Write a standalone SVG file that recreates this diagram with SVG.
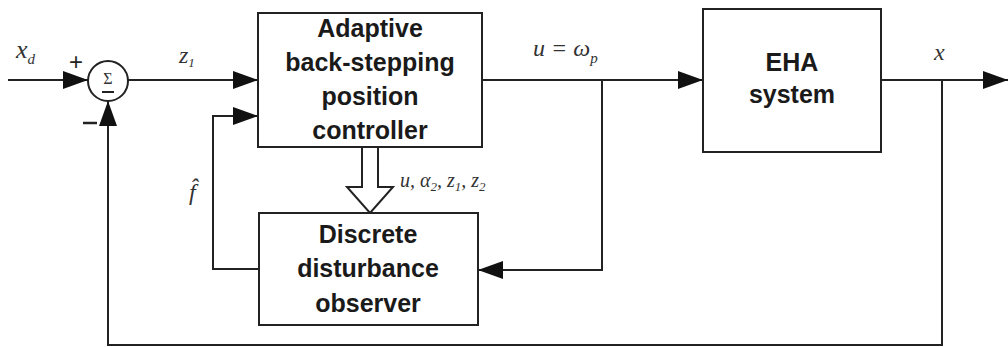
<svg xmlns="http://www.w3.org/2000/svg" width="1008" height="347" viewBox="0 0 1008 347">
<style>
.box{fill:#fff;stroke:#222;stroke-width:2}
.ln{fill:none;stroke:#222;stroke-width:2}
.t{font-family:"Liberation Sans",Arial,sans-serif;font-weight:bold;font-size:25px;fill:#1a1a1a;text-anchor:middle}
.m{font-family:"Liberation Serif","Times New Roman",serif;font-style:italic;fill:#333}
</style>
<defs>
<marker id="ah" markerWidth="25" markerHeight="18" refX="25" refY="9" orient="auto" markerUnits="userSpaceOnUse">
<path d="M0,0 L25,9 L0,18 Z" fill="#111"/>
</marker>
</defs>
<rect width="1008" height="347" fill="#fff"/>
<g id="connectors">
<line class="ln" x1="8" y1="80" x2="88" y2="80" marker-end="url(#ah)"/>
<line class="ln" x1="128" y1="80" x2="258" y2="80" marker-end="url(#ah)"/>
<line class="ln" x1="482" y1="80" x2="703" y2="80" marker-end="url(#ah)"/>
<line class="ln" x1="881" y1="80" x2="1008" y2="80" marker-end="url(#ah)"/>
<polyline class="ln" points="602,80 602,270 478,270" marker-end="url(#ah)"/>
<polyline class="ln" points="259,269 213,269 213,116 258,116" marker-end="url(#ah)"/>
<polyline class="ln" points="942,80 942,345 108,345 108,101" marker-end="url(#ah)"/>
<path d="M362,147 L362,187 L347,187 L370,213 L393,187 L378,187 L378,147" fill="#fff" stroke="#222" stroke-width="2"/>
</g>
<g id="sum">
<circle cx="108" cy="81" r="20" fill="#fff" stroke="#222" stroke-width="2"/>
<text x="108" y="84" font-family="Liberation Serif,serif" font-size="16" text-anchor="middle" fill="#333">Σ</text>
<line x1="102" y1="92" x2="114" y2="92" stroke="#222" stroke-width="2"/>
</g>
<g id="controller">
<rect class="box" x="258" y="13" width="224" height="134"/>
<text class="t" x="370" y="37">Adaptive</text>
<text class="t" x="370" y="71">back-stepping</text>
<text class="t" x="370" y="105">position</text>
<text class="t" x="370" y="139">controller</text>
</g>
<g id="observer">
<rect class="box" x="259" y="213" width="219" height="112"/>
<text class="t" x="368" y="243">Discrete</text>
<text class="t" x="368" y="277">disturbance</text>
<text class="t" x="368" y="312">observer</text>
</g>
<g id="eha">
<rect class="box" x="703" y="9" width="178" height="143"/>
<text class="t" x="792" y="71">EHA</text>
<text class="t" x="792" y="103">system</text>
</g>
<g id="labels">
<text class="m" x="16" y="58" font-size="26">x<tspan font-size="15" dy="6">d</tspan></text>
<text x="76" y="70" font-family="Liberation Sans,sans-serif" font-size="24" text-anchor="middle" fill="#222">+</text>
<line x1="83" y1="123" x2="97" y2="123" stroke="#222" stroke-width="2.5"/>
<text class="m" x="179" y="63" font-size="24">z<tspan font-size="13" dy="4">1</tspan></text>
<text class="m" x="533" y="56" font-size="24">u = ω<tspan font-size="15" dy="7">p</tspan></text>
<text class="m" x="934" y="60" font-size="24">x</text>
<text class="m" x="189" y="200" font-size="24">f&#x302;</text>
<text class="m" x="400" y="187" font-size="20">u, α<tspan font-size="13" dy="4">2</tspan><tspan dy="-4">, z</tspan><tspan font-size="13" dy="4">1</tspan><tspan dy="-4">, z</tspan><tspan font-size="13" dy="4">2</tspan></text>
</g>
</svg>
